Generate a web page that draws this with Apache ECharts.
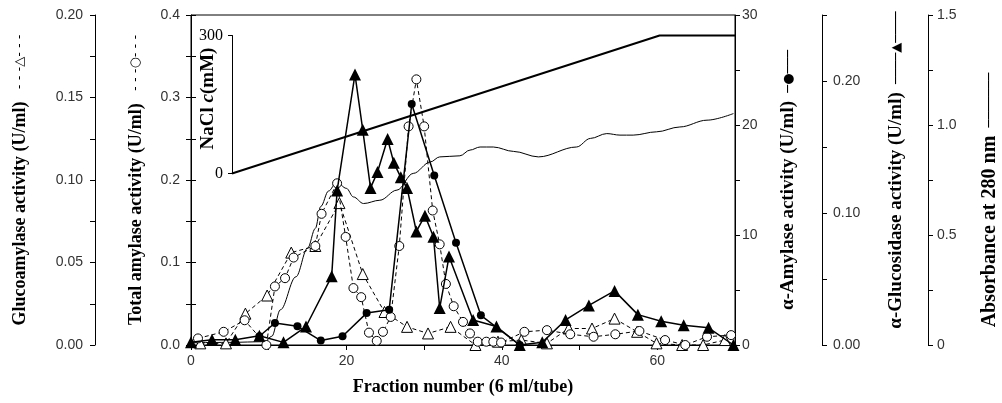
<!DOCTYPE html>
<html>
<head>
<meta charset="utf-8">
<script src="https://cdn.jsdelivr.net/npm/echarts@6/dist/echarts.min.js"></script>
<style>
  html, body { margin: 0; padding: 0; background: #fff; }
  #chart { width: 1002px; height: 403px; }
</style>
</head>
<body>
<div id="chart"></div>
<script>
// values (x = fraction number)
const glucoFrac = [1.2, 4.5, 7.0, 9.8, 12.9, 16.0, 19.1, 22.1, 24.9, 27.8, 30.5, 33.4, 36.6, 39.5, 42.5, 45.8, 48.6, 51.6, 54.5, 57.4, 59.9, 63.2, 65.9, 68.7];
const glucoVal = [0.001, 0.001, 0.019, 0.030, 0.056, 0.060, 0.086, 0.043, 0.020, 0.011, 0.007, 0.011, 0.000, 0.002, 0.003, 0.001, 0.010, 0.010, 0.016, 0.008, 0.001, 0.000, 0.000, 0.003];

const totalFrac = [0.9, 4.2, 6.9, 9.7, 10.8, 12.1, 13.2, 16.0, 16.8, 18.8, 19.9, 20.9, 21.9, 22.9, 23.9, 24.7, 25.7, 26.8, 28.0, 29.0, 30.0, 31.1, 32.0, 32.8, 33.8, 35.0, 35.9, 36.9, 38.0, 38.9, 39.9, 42.9, 45.8, 48.8, 51.8, 54.6, 57.7, 61.0, 63.6, 66.4, 69.5];
const totalVal = [0.008, 0.016, 0.030, 0.000, 0.071, 0.081, 0.106, 0.120, 0.159, 0.196, 0.131, 0.069, 0.058, 0.015, 0.005, 0.016, 0.034, 0.120, 0.265, 0.322, 0.265, 0.163, 0.122, 0.074, 0.047, 0.028, 0.014, 0.004, 0.004, 0.004, 0.003, 0.016, 0.018, 0.013, 0.010, 0.013, 0.017, 0.006, 0.000, 0.010, 0.012];

const amyFrac = [8.8, 10.8, 13.7, 16.7, 19.5, 22.6, 25.5, 28.4, 31.3, 34.1, 37.3, 42.3];
const amyVal = [0.8, 2.0, 1.7, 0.4, 0.8, 2.9, 3.2, 21.9, 15.4, 9.3, 2.7, 0.0];

const glsFrac = [0, 2.7, 5.7, 8.8, 11.9, 14.8, 18.1, 18.8, 21.1, 22.1, 23.1, 24.0, 25.3, 26.1, 27.0, 27.8, 29.0, 30.1, 31.2, 32.0, 33.2, 36.3, 39.3, 42.3, 45.2, 48.2, 51.2, 54.5, 57.5, 60.5, 63.4, 66.6, 69.8];
const glsVal = [0.002, 0.004, 0.004, 0.007, 0.002, 0.014, 0.052, 0.117, 0.205, 0.163, 0.119, 0.131, 0.156, 0.138, 0.127, 0.119, 0.086, 0.098, 0.082, 0.028, 0.067, 0.019, 0.014, 0.000, 0.002, 0.019, 0.030, 0.041, 0.023, 0.018, 0.015, 0.013, 0.000];

const absFrac = [0, 5, 9.5, 10.4, 11.5, 13.5, 15.0, 16.0, 16.7, 17.7, 18.75, 20.0, 20.9, 22.2, 24.3, 26.5, 28.6, 30.8, 32.0, 34.6, 35.9, 37.2, 38.9, 41.5, 44.7, 49.6, 51.4, 53.5, 55.2, 56.9, 59.9, 62.9, 66.4, 69.8];
const absVal = [0.01, 0.012, 0.015, 0.04, 0.16, 0.31, 0.44, 0.53, 0.63, 0.70, 0.74, 0.712, 0.673, 0.643, 0.658, 0.704, 0.780, 0.832, 0.855, 0.860, 0.886, 0.900, 0.900, 0.880, 0.855, 0.900, 0.939, 0.961, 0.954, 0.954, 0.969, 0.991, 1.022, 1.052];

const naclFrac = [5.3, 60.3, 70];
const naclVal = [0, 300, 300];

const zip = (xs, ys) => xs.map((x, i) => [x, ys[i]]);

const serif = 'Liberation Serif';
const sans = 'Liberation Sans';

// label only every `step`, ticks stay on the finer interval
function every (step, fmt) {
  return v => {
    const k = v / step;
    return Math.abs(k - Math.round(k)) < 1e-6 ? fmt(v) : '';
  };
}

const nameRich = {
  t: { fontFamily: serif, fontWeight: 'bold', fontSize: 18, color: '#000' },
  r: { fontFamily: serif, fontWeight: 'bold', fontSize: 19, color: '#000' },
  a: { fontFamily: serif, fontWeight: 'bold', fontSize: 20, color: '#000' },
  i: { fontFamily: serif, fontWeight: 'bold', fontStyle: 'italic', fontSize: 19, color: '#000' },
  n: { fontFamily: serif, fontWeight: 'bold', fontSize: 19, color: '#000' },
  k: { fontFamily: 'DejaVu Sans', fontSize: 13, color: '#000' }
};

const lineAxis = { show: true, lineStyle: { color: '#000', width: 1 } };
const tickOut = { show: true, length: 5, lineStyle: { color: '#000', width: 1 } };
const lbl = (margin, formatter) => ({
  margin, formatter, color: '#333', fontFamily: sans, fontSize: 14
});

function yAxis (opt) {
  return Object.assign({
    type: 'value',
    gridIndex: 0,
    min: 0,
    splitLine: { show: false },
    axisLine: lineAxis,
    axisTick: tickOut,
    nameLocation: 'middle',
    nameRotate: 90,
    nameMoveOverlap: false
  }, opt);
}

const chart = echarts.init(document.getElementById('chart'), null, { renderer: 'canvas' });
chart.setOption({
  animation: false,
  backgroundColor: '#fff',
  grid: [
    { left: 191, right: 267, top: 15, bottom: 58, show: true, borderColor: '#000', borderWidth: 1, containLabel: false, outerBoundsMode: 'none' },
    { left: 232, right: 267, top: 35.5, bottom: 229.5, containLabel: false, outerBoundsMode: 'none' }
  ],
  xAxis: [
    {
      type: 'value', gridIndex: 0, min: 0, max: 70, interval: 10,
      splitLine: { show: false },
      axisLine: lineAxis, axisTick: tickOut,
      axisLabel: lbl(9, every(20, v => String(v))),
      name: 'Fraction number (6 ml/tube)',
      nameLocation: 'middle', nameGap: 33,
      nameTextStyle: { fontFamily: serif, fontWeight: 'bold', fontSize: 18, color: '#000' }
    },
    { type: 'value', gridIndex: 1, min: 5.3, max: 70, show: false }
  ],
  yAxis: [
    yAxis({
      max: 0.4, interval: 0.05, position: 'left',
      axisLabel: lbl(11, every(0.1, v => v.toFixed(1))),
      name: '{t|Total amylase activity (U/ml)}{k|   - - -○- - -}',
      nameGap: 46,
      nameTextStyle: { rich: nameRich }
    }),
    yAxis({
      max: 0.2, interval: 0.025, position: 'left', offset: 96,
      axisLabel: lbl(12, every(0.05, v => v.toFixed(2))),
      name: '{t|Glucoamylase activity (U/ml)}{k|   - - -△- - -}',
      nameGap: 66,
      nameTextStyle: { rich: nameRich }
    }),
    yAxis({
      max: 30, interval: 5, position: 'right',
      axisLabel: lbl(7, every(10, v => String(v))),
      name: '{r|α-Amylase activity (U/ml)}{k|  ─●───}',
      nameGap: 44,
      nameTextStyle: { rich: nameRich }
    }),
    yAxis({
      max: 0.25, interval: 0.05, position: 'right', offset: 87,
      axisLabel: lbl(11, every(0.1, v => v.toFixed(2))),
      name: '{r|α-Glucosidase activity (U/ml)}{k|  ────▲────}',
      nameGap: 65,
      nameTextStyle: { rich: nameRich, padding: [0, 0, 0, 20] }
    }),
    yAxis({
      max: 1.5, interval: 0.25, position: 'right', offset: 193,
      axisLabel: lbl(9, every(0.5, v => (v === 0 ? '0' : v.toFixed(1)))),
      name: '{a|Absorbance at 280 nm}{k|  ───────}',
      nameGap: 52,
      nameTextStyle: { rich: nameRich, padding: [0, 40, 0, 0] }
    }),
    // inner ticks of the total amylase axis
    yAxis({
      max: 0.4, interval: 0.05, position: 'left',
      axisLine: { show: false },
      axisTick: { show: true, inside: true, length: 5, lineStyle: { color: '#000' } },
      axisLabel: { show: false }
    }),
    // NaCl inset axis
    yAxis({
      gridIndex: 1, max: 300, interval: 300, position: 'left',
      axisTick: { show: true, length: 4, lineStyle: { color: '#000' } },
      axisLabel: { margin: 9, color: '#000', fontFamily: serif, fontSize: 16 },
      name: '{n|NaCl }{i|c}{n|(mM)}',
      nameGap: 14,
      nameTextStyle: { rich: nameRich, padding: [0, 0, 0, 12] }
    })
  ],
  series: [
    {
      name: 'Absorbance', type: 'line', xAxisIndex: 0, yAxisIndex: 4,
      data: zip(absFrac, absVal),
      showSymbol: false, smooth: 0.35, smoothMonotone: 'x',
      lineStyle: { color: '#000', width: 1 }, z: 1
    },
    {
      name: 'NaCl', type: 'line', xAxisIndex: 1, yAxisIndex: 6,
      data: zip(naclFrac, naclVal),
      showSymbol: false, clip: false,
      lineStyle: { color: '#000', width: 2 }, z: 1
    },
    {
      name: 'Glucoamylase', type: 'line', xAxisIndex: 0, yAxisIndex: 1,
      data: zip(glucoFrac, glucoVal),
      symbol: 'triangle', symbolSize: 11, showAllSymbol: true,
      itemStyle: { color: '#fff', borderColor: '#000', borderWidth: 1 },
      lineStyle: { color: '#000', width: 1, type: [4, 3] }, z: 2
    },
    {
      name: 'Total amylase', type: 'line', xAxisIndex: 0, yAxisIndex: 0,
      data: zip(totalFrac, totalVal),
      symbol: 'circle', symbolSize: 9, showAllSymbol: true,
      itemStyle: { color: '#fff', borderColor: '#000', borderWidth: 1 },
      lineStyle: { color: '#000', width: 1, type: [4, 3] }, z: 3
    },
    {
      name: 'α-Amylase', type: 'line', xAxisIndex: 0, yAxisIndex: 2,
      data: zip(amyFrac, amyVal),
      symbol: 'circle', symbolSize: 8, showAllSymbol: true,
      itemStyle: { color: '#000' },
      lineStyle: { color: '#000', width: 1.5 }, z: 4
    },
    {
      name: 'α-Glucosidase', type: 'line', xAxisIndex: 0, yAxisIndex: 3,
      data: zip(glsFrac, glsVal),
      symbol: 'triangle', symbolSize: 12, showAllSymbol: true,
      itemStyle: { color: '#000' },
      lineStyle: { color: '#000', width: 1.5 }, z: 5
    }
  ]
});
</script>
</body>
</html>
